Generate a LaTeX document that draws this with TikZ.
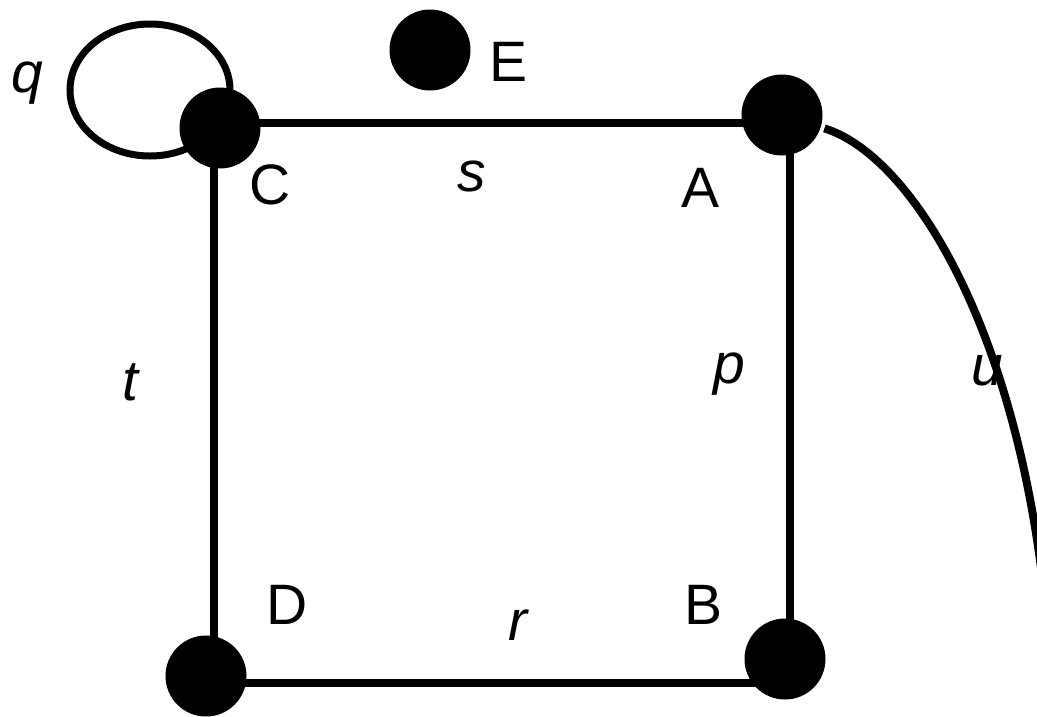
\documentclass[tikz,border=0pt]{standalone}
\usepackage{fontspec}
\setmainfont{Liberation Sans}
\usetikzlibrary{calc}

\begin{document}
\begin{tikzpicture}[x=1pt, y=-1pt, line width=8pt,
  vertex/.style={circle, fill=black, inner sep=0pt, minimum size=81pt},
  lbl/.style={anchor=base, inner sep=0pt, font=\fontsize{57}{60}\selectfont},
  elbl/.style={lbl, font=\fontsize{57}{60}\selectfont\itshape}]
\useasboundingbox (0,0) rectangle (1037,716);
\clip (0,0) rectangle (1037,716);

% vertices
\node[vertex] (C) at (220,128) {};
\node[vertex] (A) at (782,115) {};
\node[vertex] (B) at (785,659) {};
\node[vertex] (D) at (206,676) {};
\node[vertex] (E) at (430,50) {};
\coordinate (uend) at (1052,716);

% edges
\draw ($(C.center)+(0,-5)$) -- ($(A.center)+(0,8)$);
\draw ($(A.center)+(8,0)$) -- ($(B.center)+(5,0)$);
\draw ($(D.center)+(0,7)$) -- ($(B.center)+(0,24)$);
\draw ($(C.center)+(-6,0)$) -- ($(D.center)+(8,0)$);
\draw[line width=7pt] (C.center) ++(-70,-38) ellipse [x radius=80, y radius=66];
\draw (A) .. controls (925,160) and (1045,380) .. (uend);

% vertex names
\node[lbl] (nC) at (270,204) {C};
\node[lbl] (nA) at (701,207) {A};
\node[lbl] (nB) at (704,624) {B};
\node[lbl] (nD) at (287,624) {D};
\node[lbl] (nE) at (509,81) {E};

% edge names
\node[elbl] (eq) at (27,92) {q};
\node[elbl] (es) at (472,191) {s};
\node[elbl] (ep) at (729,383) {p};
\node[elbl] (et) at (130,400) {t};
\node[elbl] (eu) at (987,385) {u};
\node[elbl] (er) at (518,640) {r};
\end{tikzpicture}
\end{document}
